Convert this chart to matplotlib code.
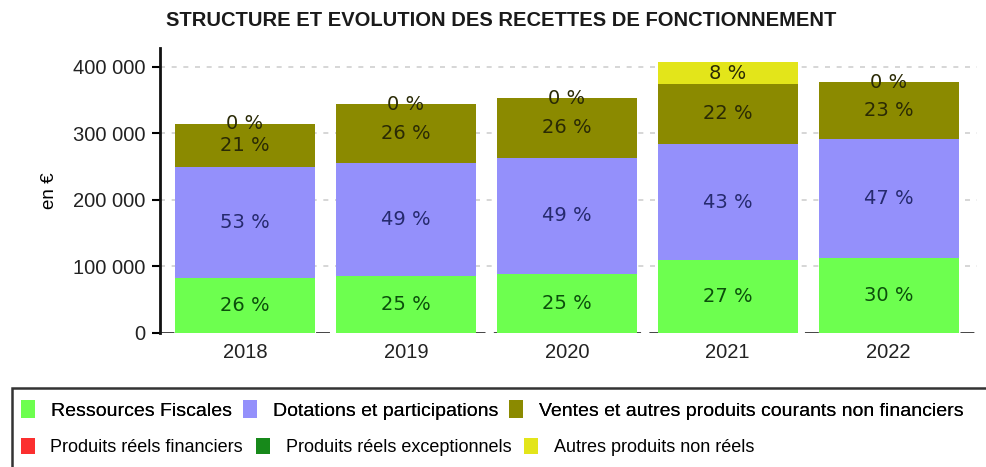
import numpy as np
import matplotlib.pyplot as plt
from matplotlib.patches import Patch, Rectangle

# values (euros)
years = ["2018", "2019", "2020", "2021", "2022"]
fiscales = [83000, 86000, 89000, 109000, 113000]
dotations = [167000, 170000, 174000, 175000, 179000]
ventes = [64000, 88000, 90000, 90000, 85000]
financiers = [0, 0, 0, 0, 0]
exceptionnels = [0, 0, 0, 0, 0]
non_reels = [0, 0, 0, 33000, 0]

# percentage labels as printed on the bars
pct_fiscales = [26, 25, 25, 27, 30]
pct_dotations = [53, 49, 49, 43, 47]
pct_ventes = [21, 26, 26, 22, 23]
pct_non_reels = [0, 0, 0, 8, 0]

series = [
    ("Ressources Fiscales", fiscales, "#6dff4f", pct_fiscales, "#0b4f0b"),
    ("Dotations et participations", dotations, "#9490fb", pct_dotations, "#262a6e"),
    ("Ventes et autres produits courants non financiers", ventes, "#8b8a00", pct_ventes, "#2a2a05"),
    ("Produits réels financiers", financiers, "#fb2f2f", None, None),
    ("Produits réels exceptionnels", exceptionnels, "#17891a", None, None),
    ("Autres produits non réels", non_reels, "#e3e51a", pct_non_reels, "#2a2a05"),
]

plt.rcParams['font.family'] = ['Liberation Sans', 'DejaVu Sans']

fig = plt.figure(figsize=(9.86, 4.67), dpi=100)
ax = fig.add_axes([0.162, 0.287, 0.829, 0.610])

x = np.arange(len(years))
width = 0.87
bottom = np.zeros(len(years))
for name, vals, color, pcts, tcol in series:
    vals = np.array(vals, dtype=float)
    ax.bar(x, vals, width, bottom=bottom, color=color, zorder=3)
    if pcts is not None:
        for i in range(len(years)):
            if vals[i] > 0:
                yy = bottom[i] + vals[i] / 2
            else:
                yy = bottom[i]
            ax.text(x[i], yy, f"{pcts[i]} %", ha="center", va="center",
                    fontsize=14, color=tcol, family="DejaVu Sans", zorder=4)
    bottom += vals

ax.set_xlim(-0.53, 4.55)
ax.set_ylim(0, 428000)
ax.set_yticks([0, 100000, 200000, 300000, 400000])
ax.set_yticklabels(["0", "100 000", "200 000", "300 000", "400 000"], fontsize=14.5, color="#222222")
ax.set_xticks(x)
ax.set_xticklabels(years, fontsize=14.5, color="#222222")
ax.tick_params(axis="x", length=0, pad=7)
ax.tick_params(axis="y", length=6, width=1.5, direction="out", pad=4)

for v in [100000, 200000, 300000, 400000]:
    ax.axhline(v, color="#d0d0d0", lw=1.2, ls=(0, (3, 4)), zorder=1)
ax.axhline(0, color="#333333", lw=2, ls=(0, (5, 3)), zorder=1)

for s in ["top", "right", "bottom"]:
    ax.spines[s].set_visible(False)
ax.spines["left"].set_linewidth(2)
ax.spines["left"].set_color("#111111")

ax.set_ylabel("en €", fontsize=13.5, labelpad=11)

fig.text(0.508, 0.957, "STRUCTURE ET EVOLUTION DES RECETTES DE FONCTIONNEMENT",
         ha="center", va="center", fontsize=14.5, fontweight="bold", color="#1a1a1a")

# legend: two rows in one framed box
handles = [Patch(facecolor=c, edgecolor="none", label=n) for n, _, c, _, _ in series]
leg_kw = dict(frameon=False, ncol=3, handleheight=1.0,
              borderaxespad=0, borderpad=0)
leg1 = fig.legend(handles=handles[:3], loc="center left", bbox_to_anchor=(0.021, 0.122),
                  fontsize=14, handlelength=0.75, handletextpad=0.8, columnspacing=0.55, **leg_kw)
fig.add_artist(leg1)
fig.legend(handles=handles[3:], loc="center left", bbox_to_anchor=(0.021, 0.043),
           fontsize=13, handlelength=0.8, handletextpad=0.85, columnspacing=0.7, **leg_kw)

fig.patches.append(Rectangle((0.012, -0.05), 1.1, 0.219, transform=fig.transFigure,
                             fill=False, edgecolor="#333333", lw=1.8))

fig.savefig("out.png", dpi=100)
